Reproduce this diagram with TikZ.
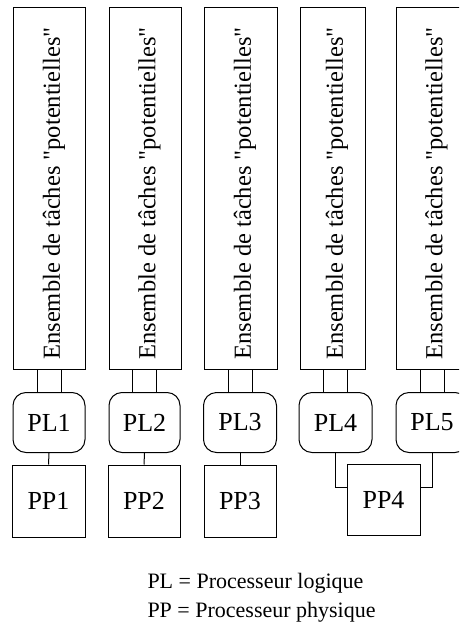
\documentclass[tikz,border=0pt]{standalone}
\usepackage{fontspec}
\setmainfont{Liberation Serif}[Ligatures=TeXOff]
\begin{document}
\begin{tikzpicture}[x=1pt,y=-1pt,line width=1pt,
  pool/.style={draw, minimum width=72pt, minimum height=361pt, inner sep=0pt},
  pooltext/.style={rotate=90, inner sep=0pt, font=\fontsize{24.5}{24.5}\selectfont},
  logical/.style={draw, rounded corners=13pt, minimum width=72pt, minimum height=60pt,
    inner sep=0pt, font=\fontsize{26}{26}\selectfont},
  physical/.style={draw, minimum width=72pt, minimum height=72pt,
    inner sep=0pt, font=\fontsize{26}{26}\selectfont},
  legend/.style={inner sep=0pt, anchor=base west, font=\fontsize{22}{22}\selectfont}
]
\useasboundingbox (0,0) rectangle (459,626);
\clip (0,0) rectangle (459,626);

% task pools
\node[pool] (t1) at (49.5,188.5) {};
\node[pool] (t2) at (145,188.5) {};
\node[pool, minimum width=73pt] (t3) at (240.5,188.5) {};
\node[pool, minimum width=65pt] (t4) at (332.5,188.5) {};
\node[pool] (t5) at (432,188.5) {};
\foreach \t in {t1,t2,t3,t4,t5}
  \node[pooltext] (\t-label) at ([xshift=4.5pt,yshift=-5pt]\t.center)
    {Ensemble de tâches "potentielles"};

% logical processors
\node[logical] (pl1) at (49,422.5) {PL1};
\node[logical, minimum width=71pt] (pl2) at (144.5,422.5) {PL2};
\node[logical, minimum width=73pt] (pl3) at (240,422.5) {PL3};
\node[logical, minimum width=73pt] (pl4) at (335.5,422.5) {PL4};
\node[logical] (pl5) at (432,422.5) {PL5};

% physical processors
\node[physical, minimum width=73pt] (pp1) at (48.5,501) {PP1};
\node[physical] (pp2) at (144,501) {PP2};
\node[physical] (pp3) at (240,501) {PP3};
\node[physical, minimum width=73pt, minimum height=71pt] (pp4) at (383.5,499.5) {PP4};

% pool to logical processor links (double)
\foreach \i in {1,...,5} {
  \draw ([xshift=-12pt]pl\i.north) -- ([xshift=-12pt]pl\i.north |- t\i.south);
  \draw ([xshift=12pt]pl\i.north) -- ([xshift=12pt]pl\i.north |- t\i.south);
}

% logical to physical processor links
\draw (pl1.south) -- (pp1.north);
\draw (pl2.south) -- (pp2.north);
\draw (pl3.south) -- (pp3.north);
\draw (pl4.south) |- ([yshift=12.5pt]pp4.west);
\draw (pl5.south) |- ([yshift=12.5pt]pp4.east);

% legend
\node[legend] (key1) at (147,588) {PL = Processeur logique};
\node[legend] (key2) at (147,617) {PP = Processeur physique};
\end{tikzpicture}
\end{document}
